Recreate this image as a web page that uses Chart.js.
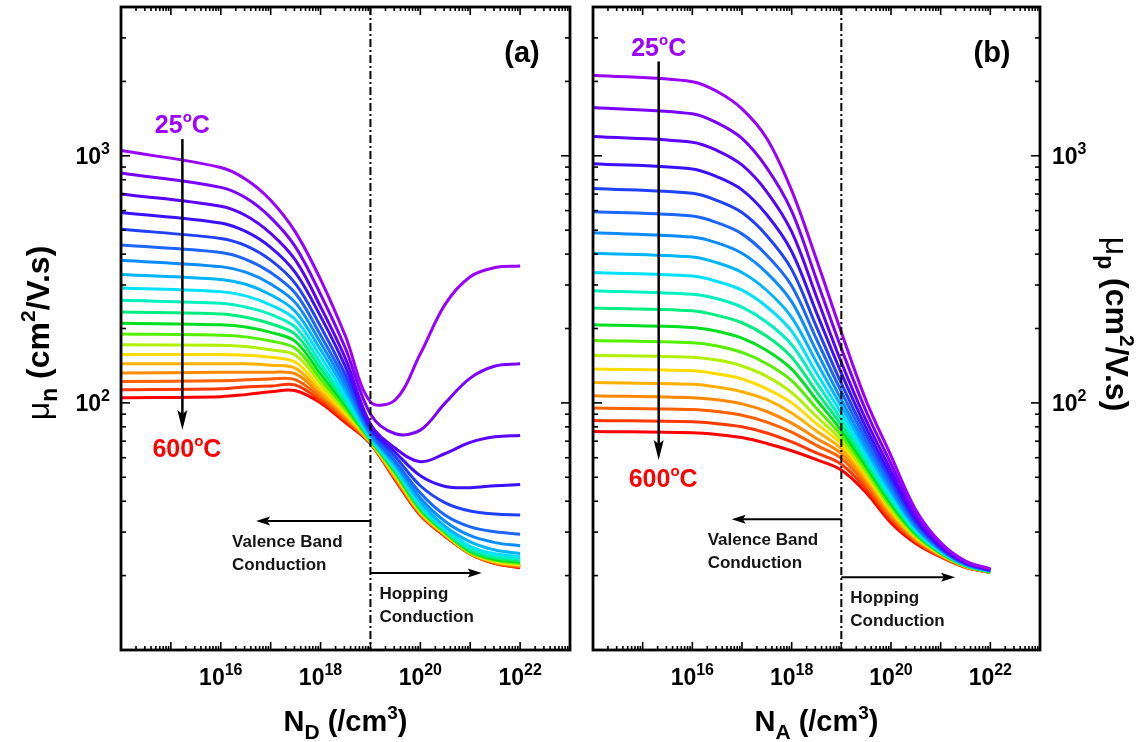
<!DOCTYPE html>
<html>
<head>
<meta charset="utf-8">
<script src="https://cdn.jsdelivr.net/npm/chart.js@4.4.1/dist/chart.umd.min.js"></script>
<style>
  html, body { margin: 0; padding: 0; background: #fff; }
  #wrap { position: relative; width: 1148px; height: 742px; }
  canvas { position: absolute; top: 0; }
  #cA { left: 0; }
  #cB { left: 580px; }
</style>
</head>
<body>
<div id="wrap">
  <canvas id="cA" width="580" height="742"></canvas>
  <canvas id="cB" width="568" height="742"></canvas>
</div>
<script>
// doping concentration (/cm3) shared by every curve
const concentration = [1e14, 1e16, 3.16e16, 1e17, 3.16e17, 1e18, 3.16e18, 1e19, 3.16e19, 1e20, 3.16e20, 1e21, 3.16e21, 1e22];

// electron mobility vs N_D, 25 C (first) to 600 C (last)
const muN = [
  [1050, 897, 804, 661, 490, 316, 186, 101, 103, 158, 251, 324, 353, 358],
  [851, 745, 676, 562, 427, 275, 166, 90.2, 75.0, 77.6, 100, 126, 141, 144],
  [701, 625, 573, 485, 377, 245, 151, 82.2, 65.5, 57.8, 62.4, 69.2, 72.9, 73.8],
  [590, 535, 494, 426, 336, 224, 140, 79.4, 63.0, 50.7, 45.9, 45.4, 46.2, 46.7],
  [504, 463, 433, 378, 303, 204, 130, 78.0, 60.5, 46.2, 39.4, 36.5, 35.5, 35.2],
  [435, 406, 381, 337, 277, 188, 123, 76.2, 58.0, 43.2, 35.1, 31.5, 30.1, 29.4],
  [378, 356, 338, 303, 254, 175, 117, 75.0, 57.0, 41.2, 33.1, 29.0, 27.2, 26.4],
  [331, 316, 302, 274, 234, 164, 112, 73.8, 55.8, 39.8, 31.6, 27.4, 25.4, 24.6],
  [292, 282, 271, 249, 217, 154, 107, 72.8, 54.8, 38.9, 30.9, 26.3, 24.5, 23.9],
  [260, 253, 244, 228, 202, 145, 103, 71.9, 53.7, 38.0, 30.5, 25.7, 24.0, 23.3],
  [233, 229, 222, 209, 189, 138, 100, 71.3, 53.1, 37.6, 30.2, 25.4, 23.6, 23.0],
  [210, 207, 203, 193, 177, 131, 97.3, 70.8, 52.4, 37.2, 30.0, 25.1, 23.3, 22.7],
  [190, 188, 185, 178, 166, 125, 94.8, 70.3, 51.8, 36.8, 29.8, 24.9, 23.1, 22.5],
  [172, 171, 169, 164, 156, 120, 92.7, 70.0, 51.3, 36.5, 29.6, 24.8, 23.0, 22.3],
  [157, 157, 156, 153, 146, 115, 90.8, 69.7, 50.8, 36.2, 29.4, 24.7, 22.8, 22.1],
  [144, 144, 144, 142, 138, 111, 89.1, 69.3, 50.3, 36.0, 29.3, 24.7, 22.7, 22.0],
  [132, 133, 133, 133, 131, 108, 87.5, 69.2, 49.8, 35.7, 29.2, 24.6, 22.6, 21.9],
  [122, 123, 124, 125, 124, 105, 86.1, 68.9, 49.4, 35.5, 29.0, 24.5, 22.5, 21.7],
  [113, 114, 116, 117, 118, 102, 84.5, 68.7, 49.0, 35.3, 28.9, 24.5, 22.4, 21.7],
  [105, 106, 108, 111, 112, 100, 83.2, 68.4, 48.6, 35.1, 28.8, 24.5, 22.4, 21.5]
];

// hole mobility vs N_A, same temperatures
const muP = [
  [2120, 1995, 1820, 1549, 1175, 724, 380, 193, 102, 61.1, 36.9, 27.2, 22.9, 21.3],
  [1567, 1479, 1358, 1175, 893, 597, 316, 166, 92.5, 56.8, 35.6, 26.8, 22.8, 21.2],
  [1197, 1135, 1050, 918, 715, 493, 269, 146, 84.9, 53.3, 34.4, 26.4, 22.6, 21.1],
  [929, 885, 822, 728, 577, 410, 232, 132, 79.3, 50.7, 33.7, 26.1, 22.5, 21.1],
  [738, 705, 659, 589, 475, 347, 203, 120, 74.5, 48.5, 32.9, 25.9, 22.4, 21.0],
  [594, 570, 536, 483, 396, 298, 181, 111, 70.5, 46.6, 32.2, 25.7, 22.3, 21.0],
  [488, 469, 444, 403, 336, 257, 162, 103, 67.1, 45.0, 31.6, 25.5, 22.2, 20.9],
  [403, 389, 369, 337, 285, 222, 146, 96.6, 64.3, 43.6, 31.2, 25.3, 22.2, 20.9],
  [337, 326, 310, 286, 245, 195, 132, 90.8, 61.7, 42.3, 30.7, 25.1, 22.1, 20.8],
  [284, 275, 264, 244, 212, 172, 121, 85.7, 59.3, 41.1, 30.3, 25.0, 22.1, 20.8],
  [242, 236, 226, 211, 186, 153, 111, 81.3, 57.3, 40.1, 29.9, 24.8, 22.0, 20.8],
  [207, 202, 195, 183, 163, 137, 103, 77.3, 55.3, 39.1, 29.5, 24.7, 21.9, 20.7],
  [179, 175, 170, 160, 144, 123, 95.1, 73.8, 53.7, 38.2, 29.2, 24.6, 21.9, 20.7],
  [156, 153, 149, 141, 128, 110, 88.1, 70.5, 52.0, 37.3, 28.8, 24.5, 21.9, 20.7],
  [137, 135, 131, 125, 114, 100, 82.4, 68.1, 50.8, 36.7, 28.6, 24.4, 21.8, 20.7],
  [121, 119, 116, 111, 103, 91.0, 76.9, 65.2, 49.4, 36.0, 28.3, 24.3, 21.8, 20.7],
  [107, 105, 103, 99.1, 92.3, 82.8, 71.8, 62.4, 48.0, 35.2, 28.0, 24.2, 21.7, 20.7],
  [95.3, 94.0, 92.3, 89.1, 83.6, 76.2, 67.3, 59.6, 46.5, 34.4, 27.7, 24.0, 21.7, 20.6],
  [84.9, 83.9, 82.4, 80.0, 75.5, 69.5, 62.7, 56.5, 44.9, 33.6, 27.4, 23.9, 21.6, 20.6],
  [76.6, 75.7, 74.5, 72.4, 68.5, 64.0, 58.9, 53.5, 43.3, 32.7, 27.0, 23.8, 21.6, 20.6]
];

const curveColors = [
  '#9900ff', '#7a00ff', '#5a00ff', '#3a10ff', '#2040ff', '#1a66ff', '#0a8cff',
  '#00b4ff', '#00e0ff', '#00f0c0', '#00ee80', '#00e020', '#55f000', '#b0f000',
  '#ffdc00', '#ffb000', '#ff8800', '#ff6000', '#ff3800', '#ff0000'
];

const xTickExps = [16, 18, 20, 22];
const yTickExps = [2, 3];
const dividerN = 1e19;   // valence band / hopping boundary
const tempLow = '25';
const tempHigh = '600';

const FONT = '"Liberation Sans", Arial, Helvetica, sans-serif';

// draw a run of text pieces (for sub/superscripts)
function drawRich(ctx, parts, x, y, align) {
  let total = 0;
  for (const p of parts) {
    ctx.font = `${p.w || 'bold'} ${p.s}px ${FONT}`;
    p.width = ctx.measureText(p.t).width;
    total += p.width;
  }
  let cx = align === 'center' ? x - total / 2 : align === 'right' ? x - total : x;
  ctx.textAlign = 'left';
  ctx.textBaseline = 'alphabetic';
  for (const p of parts) {
    ctx.font = `${p.w || 'bold'} ${p.s}px ${FONT}`;
    ctx.fillText(p.t, cx, y + (p.dy || 0));
    cx += p.width;
  }
}

function powParts(exp, size) {
  return [{ t: '10', s: size }, { t: String(exp), s: Math.round(size * 0.68), dy: -Math.round(size * 0.45) }];
}

function line(ctx, x1, y1, x2, y2) {
  ctx.beginPath();
  ctx.moveTo(x1, y1);
  ctx.lineTo(x2, y2);
  ctx.stroke();
}

function arrow(ctx, x1, y1, x2, y2, headLen, headW, lw) {
  const a = Math.atan2(y2 - y1, x2 - x1);
  const c = Math.cos(a), s = Math.sin(a);
  ctx.lineWidth = lw;
  line(ctx, x1, y1, x2 - c * headLen * 0.8, y2 - s * headLen * 0.8);
  ctx.beginPath();
  ctx.moveTo(x2, y2);
  ctx.lineTo(x2 - c * headLen - s * headW / 2, y2 - s * headLen + c * headW / 2);
  ctx.lineTo(x2 - c * headLen * 0.8, y2 - s * headLen * 0.8);
  ctx.lineTo(x2 - c * headLen + s * headW / 2, y2 - s * headLen - c * headW / 2);
  ctx.closePath();
  ctx.fill();
}

const panelDecor = {
  id: 'panelDecor',
  afterDatasetsDraw(chart, args, opt) {
    const ctx = chart.ctx;
    const { left, right, top, bottom } = chart.chartArea;
    const xs = chart.scales.x, ys = chart.scales.y;
    ctx.save();
    ctx.strokeStyle = '#000';
    ctx.fillStyle = '#000';

    // boundary between the two conduction regimes
    const xd = xs.getPixelForValue(dividerN);
    ctx.lineWidth = 2;
    ctx.setLineDash([8, 3, 2, 3]);
    line(ctx, xd, top, xd, bottom);
    ctx.setLineDash([]);

    // ticks, pointing inward on all four sides
    ctx.lineWidth = 1.6;
    for (let e = 14; e < 23; e++) {
      for (let m = 1; m <= 9; m++) {
        const v = m * Math.pow(10, e);
        if (v <= 1e14 || v >= 1e23) continue;
        const px = xs.getPixelForValue(v);
        const len = m === 1 ? 8 : 4;
        line(ctx, px, bottom, px, bottom - len);
        line(ctx, px, top, px, top + len);
      }
    }
    for (let e = 1; e <= 3; e++) {
      for (let m = 1; m <= 9; m++) {
        const v = m * Math.pow(10, e);
        if (v <= 10 || v >= 4000) continue;
        const py = ys.getPixelForValue(v);
        const len = m === 1 ? 9 : 5;
        line(ctx, left, py, left + len, py);
        line(ctx, right, py, right - len, py);
      }
    }

    // frame
    ctx.lineWidth = 2.8;
    ctx.strokeRect(left, top, right - left, bottom - top);

    // tick labels
    for (const e of xTickExps) {
      drawRich(ctx, powParts(e, 23), xs.getPixelForValue(Math.pow(10, e)), 685, 'center');
    }
    for (const e of yTickExps) {
      const py = ys.getPixelForValue(Math.pow(10, e)) + 8.5;
      if (opt.yLabelSide === 'left') drawRich(ctx, powParts(e, 23), left - 11, py, 'right');
      else drawRich(ctx, powParts(e, 23), right + 12, py, 'left');
    }

    // axis titles
    drawRich(ctx, [
      { t: 'N', s: 29 }, { t: opt.carrier, s: 21, dy: 8 },
      { t: ' (/cm', s: 29 }, { t: '3', s: 19, dy: -12 }, { t: ')', s: 29 }
    ], (left + right) / 2, 731, 'center');

    const yTitle = [
      { t: '\u03bc', s: 32, w: 'normal' }, { t: opt.mobility, s: 23, dy: 8 },
      { t: ' (cm', s: 32 }, { t: '2', s: 21, dy: -14 }, { t: '/V.s)', s: 32 }
    ];
    ctx.save();
    if (opt.yLabelSide === 'left') {
      ctx.translate(49, 333);
      ctx.rotate(-Math.PI / 2);
    } else {
      ctx.translate(right + 66, 324);
      ctx.rotate(Math.PI / 2);
    }
    drawRich(ctx, yTitle, 0, 0, 'center');
    ctx.restore();

    // panel tag
    drawRich(ctx, [{ t: opt.tag, s: 29 }], right - 48, 62, 'center');

    // temperature arrow
    const ta = opt.tempArrow;
    const tx = xs.getPixelForValue(ta.n);
    const tTop = ys.getPixelForValue(ta.from);
    const tTip = ys.getPixelForValue(ta.to);
    arrow(ctx, tx, tTop, tx, tTip, 20, 10, 2.5);
    ctx.fillStyle = '#9d00ff';
    drawRich(ctx, [{ t: tempLow, s: 25 }, { t: 'o', s: 15, dy: -11 }, { t: 'C', s: 25 }], tx, tTop - 6, 'center');
    ctx.fillStyle = '#ff0000';
    drawRich(ctx, [{ t: tempHigh, s: 25 }, { t: 'o', s: 15, dy: -11 }, { t: 'C', s: 25 }], tx + 4.5, tTip + 27, 'center');

    // conduction regime arrows and captions
    ctx.fillStyle = '#000';
    const vy = ys.getPixelForValue(opt.valence.mu);
    const vTip = xs.getPixelForValue(opt.valence.tip);
    arrow(ctx, xd, vy, vTip, vy, 14, 9, 2);
    const hy = ys.getPixelForValue(opt.hopping.mu);
    const hTip = xs.getPixelForValue(opt.hopping.tip);
    arrow(ctx, xd, hy, hTip, hy, 14, 9, 2);

    ctx.fillStyle = '#151515';
    drawRich(ctx, [{ t: 'Valence Band', s: 17 }], vTip - 24, vy + 26, 'left');
    drawRich(ctx, [{ t: 'Conduction', s: 17 }], vTip - 24, vy + 49, 'left');
    drawRich(ctx, [{ t: 'Hopping', s: 17 }], xd + 9, hy + 26, 'left');
    drawRich(ctx, [{ t: 'Conduction', s: 17 }], xd + 9, hy + 49, 'left');

    ctx.restore();
  }
};

const panels = [
  {
    canvas: 'cA', series: muN,
    padding: { left: 121, right: 10, top: 7, bottom: 92 },
    decor: {
      carrier: 'D', mobility: 'n', tag: '(a)', yLabelSide: 'left',
      tempArrow: { n: 1.7e15, from: 1170, to: 77.6 },
      valence: { tip: 5.1e16, mu: 33.3 },
      hopping: { tip: 1.7e21, mu: 20.5 }
    }
  },
  {
    canvas: 'cB', series: muP,
    padding: { left: 13, right: 108, top: 7, bottom: 92 },
    decor: {
      carrier: 'A', mobility: 'p', tag: '(b)', yLabelSide: 'right',
      tempArrow: { n: 2.1e15, from: 2405, to: 58.7 },
      valence: { tip: 6.2e16, mu: 33.8 },
      hopping: { tip: 1.95e21, mu: 19.7 }
    }
  }
];

for (const p of panels) {
  new Chart(document.getElementById(p.canvas), {
    type: 'line',
    data: {
      datasets: p.series.map((vals, i) => ({
        label: 'curve ' + (i + 1),
        data: vals.map((v, j) => ({ x: concentration[j], y: v })),
        borderColor: curveColors[i],
        borderWidth: 3,
        pointRadius: 0,
        fill: false,
        tension: 0.35
      }))
    },
    options: {
      responsive: false,
      animation: false,
      devicePixelRatio: 1,
      layout: { padding: p.padding },
      plugins: {
        legend: { display: false },
        tooltip: { enabled: false },
        panelDecor: p.decor
      },
      scales: {
        x: { type: 'logarithmic', min: 1e14, max: 1e23, display: false },
        y: { type: 'logarithmic', min: 10, max: 4000, display: false }
      }
    },
    plugins: [panelDecor]
  });
}
</script>
</body>
</html>
